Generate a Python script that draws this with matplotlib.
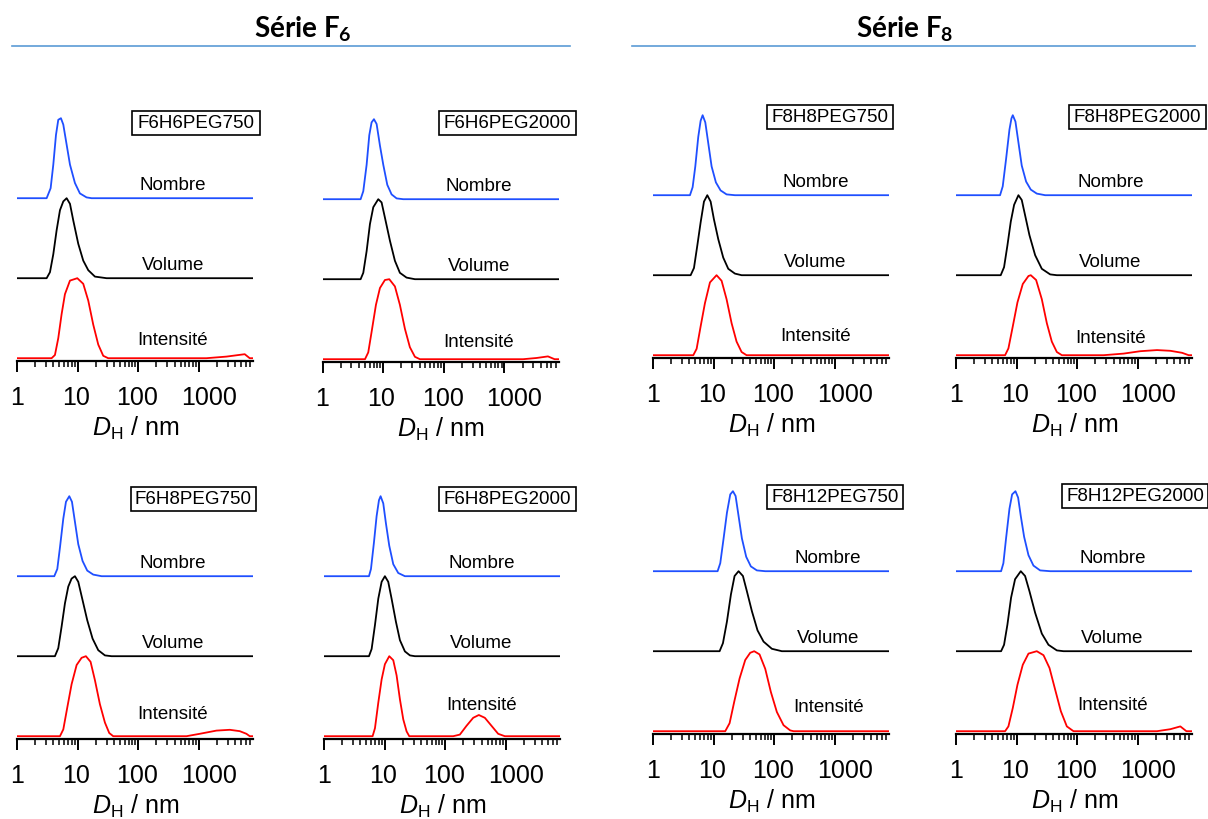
import numpy as np
import matplotlib
matplotlib.use("Agg")
import matplotlib.pyplot as plt
import matplotlib.transforms as mtrans
from matplotlib.patches import Rectangle
from matplotlib.lines import Line2D
from matplotlib.ticker import LogLocator, NullFormatter, FixedLocator

plt.rcParams['font.family'] = ['Liberation Sans', 'DejaVu Sans']
plt.rcParams['mathtext.fontset'] = 'custom'
plt.rcParams['mathtext.rm'] = 'Liberation Sans'
plt.rcParams['mathtext.it'] = 'Liberation Sans:italic'
plt.rcParams['mathtext.bf'] = 'Lato:bold'

# data: log10(D_H / nm) and normalised distribution height
# F6H6PEG750
p1_nombre_lg = [0, 0.489, 0.555, 0.599, 0.643, 0.681, 0.725, 0.764, 0.819, 0.874, 0.956, 1.038, 1.148, 1.231, 3.9]
p1_nombre_h = [0, 0, 0.125, 0.42, 0.79, 0.98, 1.0, 0.92, 0.67, 0.42, 0.19, 0.06, 0.01, 0, 0]
p1_volume_lg = [0, 0.489, 0.544, 0.599, 0.654, 0.709, 0.764, 0.819, 0.874, 0.929, 1.011, 1.093, 1.176, 1.286, 1.478, 3.9]
p1_volume_h = [0, 0, 0.075, 0.30, 0.60, 0.85, 0.96, 1.0, 0.93, 0.72, 0.43, 0.22, 0.10, 0.02, 0, 0]
p1_intens_lg = [0, 0.571, 0.626, 0.681, 0.736, 0.791, 0.874, 0.995, 1.093, 1.176, 1.258, 1.341, 1.423, 1.505, 3.126, 3.456, 3.758, 3.84, 3.9]
p1_intens_h = [0, 0, 0.04, 0.25, 0.55, 0.80, 0.97, 1.0, 0.93, 0.72, 0.42, 0.17, 0.03, 0, 0, 0.02, 0.05, 0, 0]

# F6H6PEG2000
p2_nombre_lg = [0, 0.629, 0.673, 0.728, 0.772, 0.810, 0.849, 0.893, 0.948, 1.003, 1.069, 1.140, 1.223, 1.332, 3.9]
p2_nombre_h = [0, 0, 0.10, 0.43, 0.80, 0.96, 1.0, 0.94, 0.67, 0.43, 0.18, 0.06, 0.01, 0, 0]
p2_volume_lg = [0, 0.629, 0.673, 0.728, 0.783, 0.838, 0.920, 0.975, 1.030, 1.113, 1.195, 1.277, 1.387, 1.525, 3.9]
p2_volume_h = [0, 0, 0.08, 0.35, 0.69, 0.90, 1.0, 0.96, 0.77, 0.48, 0.23, 0.08, 0.02, 0, 0]
p2_intens_lg = [0, 0.701, 0.755, 0.810, 0.882, 0.948, 1.030, 1.102, 1.195, 1.277, 1.360, 1.442, 1.525, 1.607, 3.31, 3.53, 3.72, 3.83, 3.9]
p2_intens_h = [0, 0, 0.085, 0.34, 0.68, 0.89, 0.99, 1.0, 0.91, 0.68, 0.38, 0.15, 0.03, 0, 0, 0.015, 0.035, 0, 0]

# F8H8PEG750
p3_nombre_lg = [0, 0.61, 0.654, 0.698, 0.747, 0.786, 0.819, 0.863, 0.912, 0.967, 1.038, 1.115, 1.214, 1.352, 3.9]
p3_nombre_h = [0, 0, 0.10, 0.36, 0.73, 0.93, 1.0, 0.91, 0.65, 0.36, 0.16, 0.06, 0.01, 0, 0]
p3_volume_lg = [0, 0.621, 0.676, 0.731, 0.786, 0.841, 0.896, 0.951, 1.005, 1.077, 1.159, 1.242, 1.352, 1.462, 3.9]
p3_volume_h = [0, 0, 0.09, 0.37, 0.66, 0.92, 1.0, 0.92, 0.70, 0.45, 0.22, 0.08, 0.02, 0, 0]
p3_intens_lg = [0, 0.665, 0.720, 0.786, 0.857, 0.940, 1.049, 1.132, 1.214, 1.297, 1.379, 1.462, 1.544, 3.9]
p3_intens_h = [0, 0, 0.08, 0.36, 0.65, 0.91, 1.0, 0.93, 0.70, 0.40, 0.17, 0.04, 0, 0]

# F8H8PEG2000
p4_nombre_lg = [0, 0.727, 0.771, 0.826, 0.882, 0.915, 0.937, 0.981, 1.03, 1.085, 1.157, 1.234, 1.333, 1.471, 3.9]
p4_nombre_h = [0, 0, 0.11, 0.45, 0.82, 0.96, 1.0, 0.92, 0.66, 0.37, 0.17, 0.07, 0.02, 0, 0]
p4_volume_lg = [0, 0.738, 0.793, 0.848, 0.904, 0.959, 1.03, 1.085, 1.140, 1.212, 1.306, 1.416, 1.554, 1.664, 3.9]
p4_volume_h = [0, 0, 0.10, 0.37, 0.67, 0.88, 1.0, 0.94, 0.75, 0.50, 0.25, 0.08, 0.01, 0, 0]
p4_intens_lg = [0, 0.810, 0.865, 0.937, 1.014, 1.102, 1.196, 1.234, 1.322, 1.416, 1.499, 1.581, 1.664, 1.747,
                2.435, 2.766, 3.041, 3.317, 3.537, 3.730, 3.840, 3.9]
p4_intens_h = [0, 0, 0.085, 0.36, 0.66, 0.89, 0.99, 1.0, 0.94, 0.70, 0.40, 0.17, 0.04, 0,
               0, 0.02, 0.05, 0.064, 0.055, 0.03, 0, 0]

# F6H8PEG750
p5_nombre_lg = [0, 0.615, 0.665, 0.709, 0.764, 0.808, 0.863, 0.907, 0.956, 1.011, 1.082, 1.159, 1.258, 1.396, 3.9]
p5_nombre_h = [0, 0, 0.09, 0.36, 0.72, 0.93, 1.0, 0.93, 0.68, 0.40, 0.19, 0.07, 0.02, 0, 0]
p5_volume_lg = [0, 0.626, 0.681, 0.736, 0.791, 0.846, 0.901, 0.956, 1.011, 1.082, 1.159, 1.247, 1.341, 1.451, 1.560, 3.9]
p5_volume_h = [0, 0, 0.10, 0.37, 0.66, 0.87, 0.97, 1.0, 0.93, 0.70, 0.45, 0.22, 0.075, 0.01, 0, 0]
p5_intens_lg = [0, 0.709, 0.764, 0.830, 0.901, 0.984, 1.066, 1.137, 1.214, 1.286, 1.368, 1.451, 1.522, 1.588,
                2.797, 3.016, 3.291, 3.511, 3.676, 3.786, 3.841, 3.9]
p5_intens_h = [0, 0, 0.085, 0.36, 0.65, 0.89, 0.98, 1.0, 0.93, 0.70, 0.40, 0.17, 0.04, 0,
               0, 0.03, 0.07, 0.08, 0.063, 0.03, 0, 0]

# F6H8PEG2000
p6_nombre_lg = [0, 0.742, 0.775, 0.824, 0.868, 0.907, 0.934, 0.978, 1.022, 1.077, 1.143, 1.225, 1.335, 3.9]
p6_nombre_h = [0, 0, 0.09, 0.42, 0.75, 0.95, 1.0, 0.91, 0.66, 0.38, 0.15, 0.04, 0, 0]
p6_volume_lg = [0, 0.742, 0.786, 0.841, 0.896, 0.951, 1.005, 1.060, 1.115, 1.187, 1.253, 1.335, 1.418, 1.5, 3.9]
p6_volume_h = [0, 0, 0.09, 0.39, 0.72, 0.93, 1.0, 0.93, 0.72, 0.43, 0.20, 0.06, 0.01, 0, 0]
p6_intens_lg = [0, 0.802, 0.841, 0.896, 0.951, 1.005, 1.077, 1.143, 1.198, 1.253, 1.308, 1.363, 1.407,
                2.132, 2.242, 2.352, 2.462, 2.555, 2.654, 2.764, 2.874, 2.984, 3.9]
p6_intens_h = [0, 0, 0.10, 0.42, 0.71, 0.90, 1.0, 0.95, 0.76, 0.46, 0.21, 0.06, 0,
               0, 0.02, 0.13, 0.23, 0.265, 0.23, 0.13, 0.03, 0, 0]

# F8H12PEG750
p7_nombre_lg = [0, 1.066, 1.110, 1.165, 1.220, 1.275, 1.319, 1.363, 1.412, 1.467, 1.538, 1.615, 1.714, 1.852, 3.9]
p7_nombre_h = [0, 0, 0.10, 0.41, 0.73, 0.96, 1.0, 0.94, 0.69, 0.41, 0.18, 0.06, 0.01, 0, 0]
p7_volume_lg = [0, 1.099, 1.154, 1.220, 1.286, 1.346, 1.412, 1.484, 1.549, 1.632, 1.725, 1.824, 1.962, 2.126, 3.9]
p7_volume_h = [0, 0, 0.10, 0.37, 0.71, 0.94, 1.0, 0.94, 0.75, 0.50, 0.26, 0.12, 0.03, 0, 0]
p7_intens_lg = [0, 1.192, 1.264, 1.341, 1.429, 1.522, 1.604, 1.670, 1.758, 1.852, 1.945, 2.044, 2.154, 2.264, 2.319, 3.9]
p7_intens_h = [0, 0, 0.10, 0.37, 0.66, 0.89, 0.98, 1.0, 0.96, 0.78, 0.49, 0.24, 0.075, 0.01, 0, 0]

# F8H12PEG2000
p8_nombre_lg = [0, 0.744, 0.782, 0.826, 0.882, 0.926, 0.981, 1.025, 1.069, 1.124, 1.196, 1.278, 1.388, 1.554, 3.9]
p8_nombre_h = [0, 0, 0.10, 0.41, 0.78, 0.96, 1.0, 0.92, 0.69, 0.43, 0.20, 0.07, 0.01, 0, 0]
p8_volume_lg = [0, 0.744, 0.793, 0.848, 0.909, 0.975, 1.069, 1.140, 1.212, 1.306, 1.416, 1.526, 1.664, 1.774, 3.9]
p8_volume_h = [0, 0, 0.08, 0.33, 0.67, 0.90, 1.0, 0.94, 0.75, 0.48, 0.22, 0.08, 0.01, 0, 0]
p8_intens_lg = [0, 0.810, 0.865, 0.937, 1.014, 1.102, 1.196, 1.333, 1.444, 1.543, 1.636, 1.730, 1.829, 1.939,
                3.317, 3.537, 3.702, 3.802, 3.9]
p8_intens_h = [0, 0, 0.06, 0.29, 0.58, 0.83, 0.97, 1.0, 0.95, 0.79, 0.52, 0.25, 0.06, 0,
               0, 0.025, 0.06, 0, 0]

samples = ['F6H6PEG750', 'F6H6PEG2000', 'F8H8PEG750', 'F8H8PEG2000',
           'F6H8PEG750', 'F6H8PEG2000', 'F8H12PEG750', 'F8H12PEG2000']
curves = [
    (p1_nombre_lg, p1_nombre_h, p1_volume_lg, p1_volume_h, p1_intens_lg, p1_intens_h),
    (p2_nombre_lg, p2_nombre_h, p2_volume_lg, p2_volume_h, p2_intens_lg, p2_intens_h),
    (p3_nombre_lg, p3_nombre_h, p3_volume_lg, p3_volume_h, p3_intens_lg, p3_intens_h),
    (p4_nombre_lg, p4_nombre_h, p4_volume_lg, p4_volume_h, p4_intens_lg, p4_intens_h),
    (p5_nombre_lg, p5_nombre_h, p5_volume_lg, p5_volume_h, p5_intens_lg, p5_intens_h),
    (p6_nombre_lg, p6_nombre_h, p6_volume_lg, p6_volume_h, p6_intens_lg, p6_intens_h),
    (p7_nombre_lg, p7_nombre_h, p7_volume_lg, p7_volume_h, p7_intens_lg, p7_intens_h),
    (p8_nombre_lg, p8_nombre_h, p8_volume_lg, p8_volume_h, p8_intens_lg, p8_intens_h),
]
tick_vals = [1, 10, 100, 1000]
tick_labels = ['1', '10', '100', '1000']

# layout in pixels (x of D=1, y of axis line, label box centre, Intensité label height)
W, H = 1208, 820
x_origin = [17, 322.5, 653, 956, 17, 324, 653, 956]
axis_y = [362, 363, 359, 359, 740, 740, 735, 735]
box_c = [(196, 123.5), (507.5, 124), (830, 117.5), (1137.5, 118),
         (193.5, 500), (507.5, 500), (835, 497.5), (1135, 496.5)]
box_w = [128, 137, 126, 137, 125, 137, 136, 146]
txt_x = [2.57, 2.58, 2.68, 2.55, 2.57, 2.6, 2.89, 2.58]
int_y = [0.23, 0.22, 0.25, 0.22, 0.28, 0.40, 0.31, 0.33]
lab_dx = [0, -2, -1, 10]     # tick label nudges (px), as in the original
decade = 60.6
unit = 80.0
y_lo, y_hi = -0.035, 3.365

fig = plt.figure(figsize=(W / 100, H / 100), dpi=100)

for i in range(8):
    nlg, nh, vlg, vh, ilg, ih = curves[i]
    left = x_origin[i] / W
    width = decade * 3.9 / W
    bottom = 1 - axis_y[i] / H
    height = unit * (y_hi - y_lo) / H
    ax = fig.add_axes([left, bottom, width, height])
    ax.set_xscale('log')
    ax.plot(10 ** np.array(nlg), np.array(nh) + 2, color='#1f4fff', lw=1.3)
    ax.plot(10 ** np.array(vlg), np.array(vh) + 1, color='black', lw=1.3)
    ax.plot(10 ** np.array(ilg), np.array(ih), color='#ff0000', lw=1.3)
    ax.set_xlim(1, 10 ** 3.9)
    ax.set_ylim(y_lo, y_hi)
    for s in ['top', 'right', 'left']:
        ax.spines[s].set_visible(False)
    ax.spines['bottom'].set_linewidth(1.6)
    ax.set_yticks([])
    ax.xaxis.set_major_locator(FixedLocator(tick_vals))
    ax.xaxis.set_minor_locator(LogLocator(base=10, subs=np.arange(2, 10)))
    ax.xaxis.set_minor_formatter(NullFormatter())
    ax.tick_params(axis='x', which='major', direction='out', length=8, width=1.4,
                   labelbottom=False)
    ax.tick_params(axis='x', which='minor', direction='out', length=4, width=1.1)
    ax.patch.set_alpha(0)

    base = ax.get_xaxis_transform()
    for v, lab, dx in zip(tick_vals, tick_labels, lab_dx):
        tr = base + mtrans.ScaledTranslation(dx / 100, -36 / 100, fig.dpi_scale_trans)
        ax.text(v, 0, lab, transform=tr, fontsize=18, ha='center', va='center')
    tr = ax.transAxes + mtrans.ScaledTranslation(0, -66 / 100, fig.dpi_scale_trans)
    ax.text(0.5, 0, r'$D_\mathrm{H}$ / nm', transform=tr, fontsize=18, ha='center', va='center')

    lx = 10 ** txt_x[i]
    ax.text(lx, 2.17, 'Nombre', fontsize=13.5, ha='center', va='center')
    ax.text(lx, 1.17, 'Volume', fontsize=13.5, ha='center', va='center')
    ax.text(lx, int_y[i], 'Intensité', fontsize=13.5, ha='center', va='center')

    cx, cy = box_c[i]
    bw, bh = box_w[i], 24
    fig.add_artist(Rectangle(((cx - bw / 2) / W, 1 - (cy + bh / 2) / H), bw / W, bh / H,
                             transform=fig.transFigure, fill=False, ec='black', lw=1.2))
    fig.text(cx / W, 1 - cy / H, samples[i], fontsize=13.5, ha='center', va='center')

# series titles with blue rules
fig.text(303 / W, 1 - 29 / H, r'Série F$_\mathbf{6}$', fontsize=20, family='Lato',
         fontweight='bold', ha='center', va='center')
fig.text(905 / W, 1 - 29 / H, r'Série F$_\mathbf{8}$', fontsize=20, family='Lato',
         fontweight='bold', ha='center', va='center')
fig.add_artist(Line2D([12 / W, 570 / W], [1 - 47 / H, 1 - 47 / H], color='#5b9bd5', lw=1.2))
fig.add_artist(Line2D([632 / W, 1195 / W], [1 - 47 / H, 1 - 47 / H], color='#5b9bd5', lw=1.2))

fig.savefig('out.png', dpi=100)
